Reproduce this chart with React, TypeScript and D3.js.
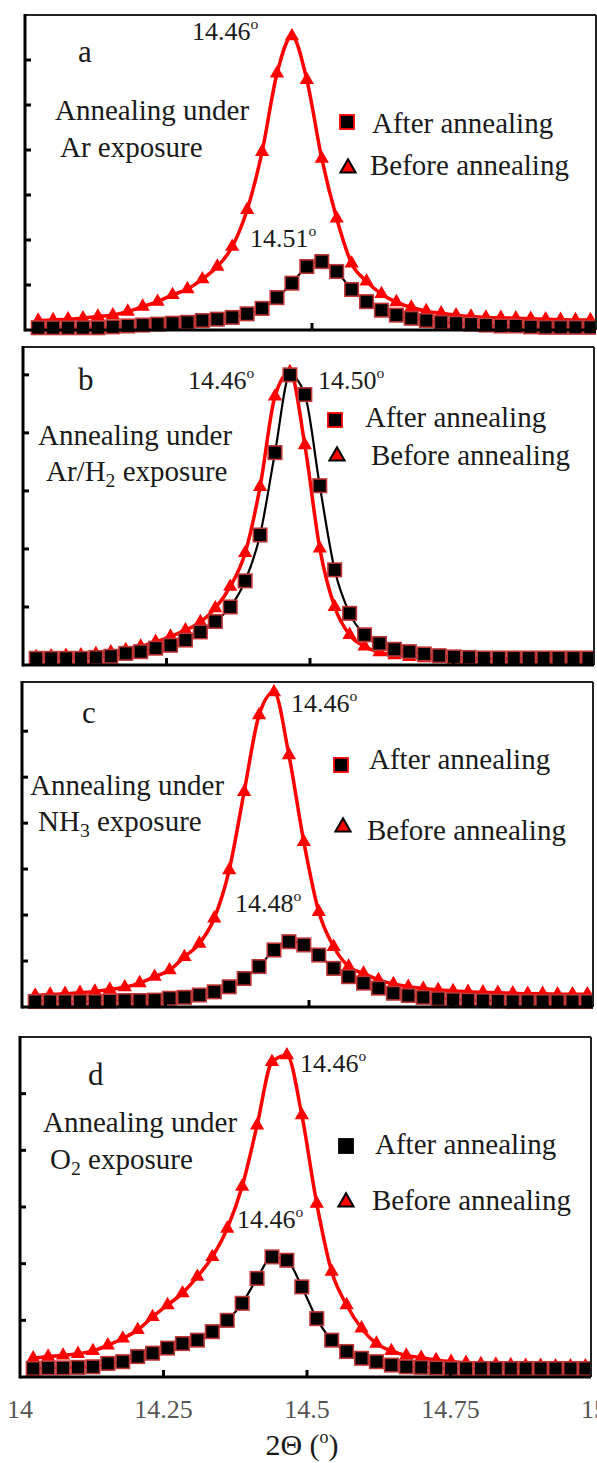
import React from 'react';
import * as d3 from 'd3';

// 2θ positions of the measured points (shared by every panel)
const twoTheta = [
  14.023, 14.049, 14.075, 14.101, 14.127, 14.153, 14.179, 14.205, 14.231, 14.257,
  14.283, 14.309, 14.335, 14.361, 14.387, 14.413, 14.439, 14.465, 14.491, 14.517,
  14.543, 14.569, 14.595, 14.621, 14.647, 14.673, 14.699, 14.725, 14.751, 14.777,
  14.803, 14.829, 14.855, 14.881, 14.907, 14.933, 14.959, 14.985
];

// intensities, in y-tick units of each panel
const afterAr = [
  0.05, 0.05, 0.05, 0.05, 0.05, 0.07, 0.09, 0.11, 0.13, 0.15,
  0.17, 0.21, 0.24, 0.28, 0.36, 0.48, 0.72, 1.04, 1.41, 1.52,
  1.30, 0.90, 0.63, 0.44, 0.33, 0.26, 0.21, 0.17, 0.15, 0.13,
  0.11, 0.09, 0.09, 0.07, 0.06, 0.06, 0.06, 0.06
];
const beforeAr = [
  0.21, 0.22, 0.24, 0.26, 0.30, 0.33, 0.41, 0.52, 0.63, 0.78,
  0.91, 1.13, 1.41, 1.85, 2.67, 3.96, 5.70, 6.53, 5.56, 3.81,
  2.48, 1.48, 1.08, 0.80, 0.62, 0.50, 0.42, 0.37, 0.33, 0.30,
  0.28, 0.27, 0.26, 0.25, 0.24, 0.23, 0.22, 0.22
];
const afterArH2 = [
  0.115, 0.115, 0.115, 0.115, 0.13, 0.15, 0.20, 0.23, 0.29, 0.34,
  0.43, 0.57, 0.75, 1.00, 1.45, 2.24, 3.66, 5.00, 4.66, 3.09,
  1.64, 0.89, 0.52, 0.37, 0.27, 0.23, 0.19, 0.16, 0.14, 0.13,
  0.12, 0.12, 0.12, 0.12, 0.12, 0.12, 0.12, 0.12
];
const beforeArH2 = [
  0.14, 0.15, 0.16, 0.17, 0.19, 0.22, 0.26, 0.32, 0.40, 0.49,
  0.60, 0.74, 0.98, 1.35, 1.93, 3.07, 4.63, 5.05, 3.79, 2.01,
  1.00, 0.52, 0.32, 0.22, 0.17, 0.14, 0.12, 0.11, 0.11, 0.10,
  0.10, 0.10, 0.10, 0.10, 0.10, 0.10, 0.10, 0.10
];
const afterNH3 = [
  0.12, 0.12, 0.12, 0.12, 0.12, 0.13, 0.14, 0.14, 0.15, 0.19,
  0.21, 0.26, 0.33, 0.44, 0.62, 0.88, 1.24, 1.42, 1.35, 1.13,
  0.84, 0.66, 0.52, 0.41, 0.30, 0.25, 0.21, 0.18, 0.16, 0.15,
  0.14, 0.13, 0.12, 0.12, 0.12, 0.12, 0.12, 0.12
];
const beforeNH3 = [
  0.25, 0.27, 0.29, 0.31, 0.34, 0.38, 0.43, 0.52, 0.66, 0.80,
  1.09, 1.38, 1.93, 2.98, 4.68, 6.35, 6.85, 5.48, 3.59, 2.07,
  1.31, 0.88, 0.73, 0.59, 0.50, 0.44, 0.40, 0.37, 0.35, 0.33,
  0.32, 0.31, 0.30, 0.29, 0.29, 0.28, 0.28, 0.28
];
const afterO2 = [
  0.15, 0.16, 0.16, 0.17, 0.18, 0.24, 0.27, 0.36, 0.42, 0.51,
  0.59, 0.65, 0.80, 1.00, 1.30, 1.74, 2.12, 2.06, 1.59, 1.03,
  0.65, 0.45, 0.33, 0.27, 0.21, 0.18, 0.17, 0.16, 0.15, 0.15,
  0.15, 0.15, 0.15, 0.15, 0.15, 0.15, 0.15, 0.15
];
const beforeO2 = [
  0.33, 0.36, 0.38, 0.41, 0.46, 0.56, 0.68, 0.83, 1.06, 1.27,
  1.48, 1.77, 2.12, 2.62, 3.36, 4.44, 5.56, 5.68, 4.62, 3.06,
  1.86, 1.27, 0.86, 0.59, 0.46, 0.38, 0.34, 0.30, 0.27, 0.25,
  0.23, 0.22, 0.21, 0.20, 0.20, 0.19, 0.19, 0.19
];

const xTicks = [14.25, 14.5, 14.75];
const xTickLabels = [14, 14.25, 14.5, 14.75, 15];
const seriesNames = ['After annealing', 'Before annealing'];
const panelLetters = ['a', 'b', 'c', 'd'];
const gasNames = [
  [{ t: 'Ar exposure' }],
  [{ t: 'Ar/H' }, { t: '2', sub: true }, { t: ' exposure' }],
  [{ t: 'NH' }, { t: '3', sub: true }, { t: ' exposure' }],
  [{ t: 'O' }, { t: '2', sub: true }, { t: ' exposure' }]
];
const peakLabels = [
  ['14.46', '14.51'],
  ['14.46', '14.50'],
  ['14.46', '14.48'],
  ['14.46', '14.46']
];

const FONT = '"Liberation Serif", "Times New Roman", Times, serif';
const RED = '#ff0000';
const SQ_STROKE = '#c03535';
const INK = '#1a1a1a';

type Part = { t: string; sub?: boolean };

const panels = [
  {
    after: afterAr, before: beforeAr, left: 25, top: 15, bottom: 330, yMax: 7,
    letter: [78, 62], note: [55, 120, 60, 157],
    peaks: [[192, 40], [250, 247]],
    legend: [347, 122, 372, 133, 348, 168, 370, 175], legendSqStroke: true
  },
  {
    after: afterArH2, before: beforeArH2, left: 23, top: 347, bottom: 665, yMax: 5.48,
    letter: [78, 390], note: [38, 445, 46, 481],
    peaks: [[188, 389], [318, 389]],
    legend: [335, 420, 365, 427, 337, 456, 371, 465], legendSqStroke: true
  },
  {
    after: afterNH3, before: beforeNH3, left: 22, top: 682, bottom: 1007, yMax: 7.07,
    letter: [82, 723], note: [30, 795, 38, 831],
    peaks: [[291, 712], [235, 912]],
    legend: [341, 765, 369, 769, 343, 827, 367, 840], legendSqStroke: true
  },
  {
    after: afterO2, before: beforeO2, left: 20, top: 1037, bottom: 1377, yMax: 6.0,
    letter: [88, 1085], note: [43, 1132, 50, 1169],
    peaks: [[300, 1072], [237, 1228]],
    legend: [346, 1146, 375, 1154, 346, 1202, 372, 1210], legendSqStroke: false
  }
];

const Rich = ({ x, y, size, parts }: { x: number; y: number; size: number; parts: Part[] }) => {
  let shift = 0;
  return (
    <text x={x} y={y} fontSize={size} fontFamily={FONT} fill={INK}>
      {parts.map((p, i) => {
        const target = p.sub ? size * 0.22 : 0;
        const dy = target - shift;
        shift = target;
        return (
          <tspan key={i} dy={dy} fontSize={p.sub ? size * 0.68 : size}>
            {p.t}
          </tspan>
        );
      })}
    </text>
  );
};

const Degree = ({ x, y, size, value }: { x: number; y: number; size: number; value: string }) => (
  <text x={x} y={y} fontSize={size} fontFamily={FONT} fill={INK}>
    {value}
    <tspan fontSize={size * 0.6} dy={-size * 0.42}>o</tspan>
  </text>
);

const triPath = d3.symbol(d3.symbolTriangle, 88)() as string;
const legendTri = d3.symbol(d3.symbolTriangle, 100)() as string;
const SQ = 13.5;

const Panel = ({ p, i }: { p: (typeof panels)[number]; i: number }) => {
  const x = d3.scaleLinear().domain([14, 15]).range([p.left, p.left + 574]);
  const y = d3.scaleLinear().domain([0, p.yMax]).range([p.bottom, p.top]);
  const right = Math.min(p.left + 571, 596);
  const line = d3
    .line<number>()
    .x((_, k) => x(twoTheta[k]))
    .y((v) => y(v))
    .curve(d3.curveMonotoneX);
  const yTicks = y.ticks(Math.floor(p.yMax)).filter((t) => t > 0 && y(t) > p.top + 8);
  const clipId = `clip-${i}`;
  return (
    <g>
      <clipPath id={clipId}>
        <rect x={p.left} y={p.top - 20} width={right - p.left} height={p.bottom - p.top + 30} />
      </clipPath>
      <g clipPath={`url(#${clipId})`}>
        <path d={line(p.before) || ''} fill="none" stroke={RED} strokeWidth={3.5} />
        {p.before.map((v, k) => (
          <path key={k} d={triPath} transform={`translate(${x(twoTheta[k])},${y(v)})`} fill={RED} />
        ))}
        <path d={line(p.after) || ''} fill="none" stroke="#000" strokeWidth={2.2} />
        {p.after.map((v, k) => (
          <rect
            key={k}
            x={x(twoTheta[k]) - SQ / 2}
            y={y(v) - SQ / 2}
            width={SQ}
            height={SQ}
            fill="#000"
            stroke={SQ_STROKE}
            strokeWidth={1.6}
          />
        ))}
      </g>
      {/* frame */}
      <line x1={p.left} x2={right} y1={p.top} y2={p.top} stroke="#222" strokeWidth={2} />
      <line x1={right} x2={right} y1={p.top} y2={p.bottom} stroke="#222" strokeWidth={2} />
      <line x1={p.left} x2={p.left} y1={p.top - 1} y2={p.bottom + 1.5} stroke="#000" strokeWidth={3} />
      <line x1={p.left} x2={right} y1={p.bottom} y2={p.bottom} stroke="#000" strokeWidth={3} />
      {yTicks.map((t) => (
        <line key={t} x1={p.left} x2={p.left + 6} y1={y(t)} y2={y(t)} stroke="#000" strokeWidth={3} />
      ))}
      {xTicks.map((t) => (
        <line key={t} x1={x(t)} x2={x(t)} y1={p.bottom} y2={p.bottom - 7} stroke="#000" strokeWidth={3} />
      ))}
      {/* annotations */}
      <text x={p.letter[0]} y={p.letter[1]} fontSize={31} fontFamily={FONT} fill={INK}>
        {panelLetters[i]}
      </text>
      <Rich x={p.note[0]} y={p.note[1]} size={29} parts={[{ t: 'Annealing under' }]} />
      <Rich x={p.note[2]} y={p.note[3]} size={29} parts={gasNames[i]} />
      <Degree x={p.peaks[0][0]} y={p.peaks[0][1]} size={26} value={peakLabels[i][0]} />
      <Degree x={p.peaks[1][0]} y={p.peaks[1][1]} size={26} value={peakLabels[i][1]} />
      {/* legend */}
      <rect
        x={p.legend[0] - 7}
        y={p.legend[1] - 7}
        width={14}
        height={14}
        fill="#000"
        stroke={p.legendSqStroke ? RED : '#000'}
        strokeWidth={1.8}
      />
      <text x={p.legend[2]} y={p.legend[3]} fontSize={29} fontFamily={FONT} fill={INK}>
        {seriesNames[0]}
      </text>
      <path
        d={legendTri}
        transform={`translate(${p.legend[4]},${p.legend[5]})`}
        fill={RED}
        stroke="#000"
        strokeWidth={2}
      />
      <text x={p.legend[6]} y={p.legend[7]} fontSize={29} fontFamily={FONT} fill={INK}>
        {seriesNames[1]}
      </text>
    </g>
  );
};

export default function App() {
  const last = panels[panels.length - 1];
  const xBottom = d3.scaleLinear().domain([14, 15]).range([last.left, last.left + 574]);
  return (
    <svg
      width={597}
      height={1463}
      style={{ position: 'absolute', left: 0, top: 0, background: '#fff' }}
    >
      <rect width={597} height={1463} fill="#fff" />
      {panels.map((p, i) => (
        <Panel key={i} p={p} i={i} />
      ))}
      {xTickLabels.map((t) => (
        <text
          key={t}
          x={xBottom(t)}
          y={1418}
          textAnchor="middle"
          fontSize={26}
          fontFamily={FONT}
          fill="#555"
        >
          {String(t)}
        </text>
      ))}
      <text x={302} y={1455} textAnchor="middle" fontSize={30} fontFamily={FONT} fill={INK}>
        2Θ (<tspan fontSize={18} dy={-12}>o</tspan>
        <tspan dy={12}>)</tspan>
      </text>
    </svg>
  );
}
